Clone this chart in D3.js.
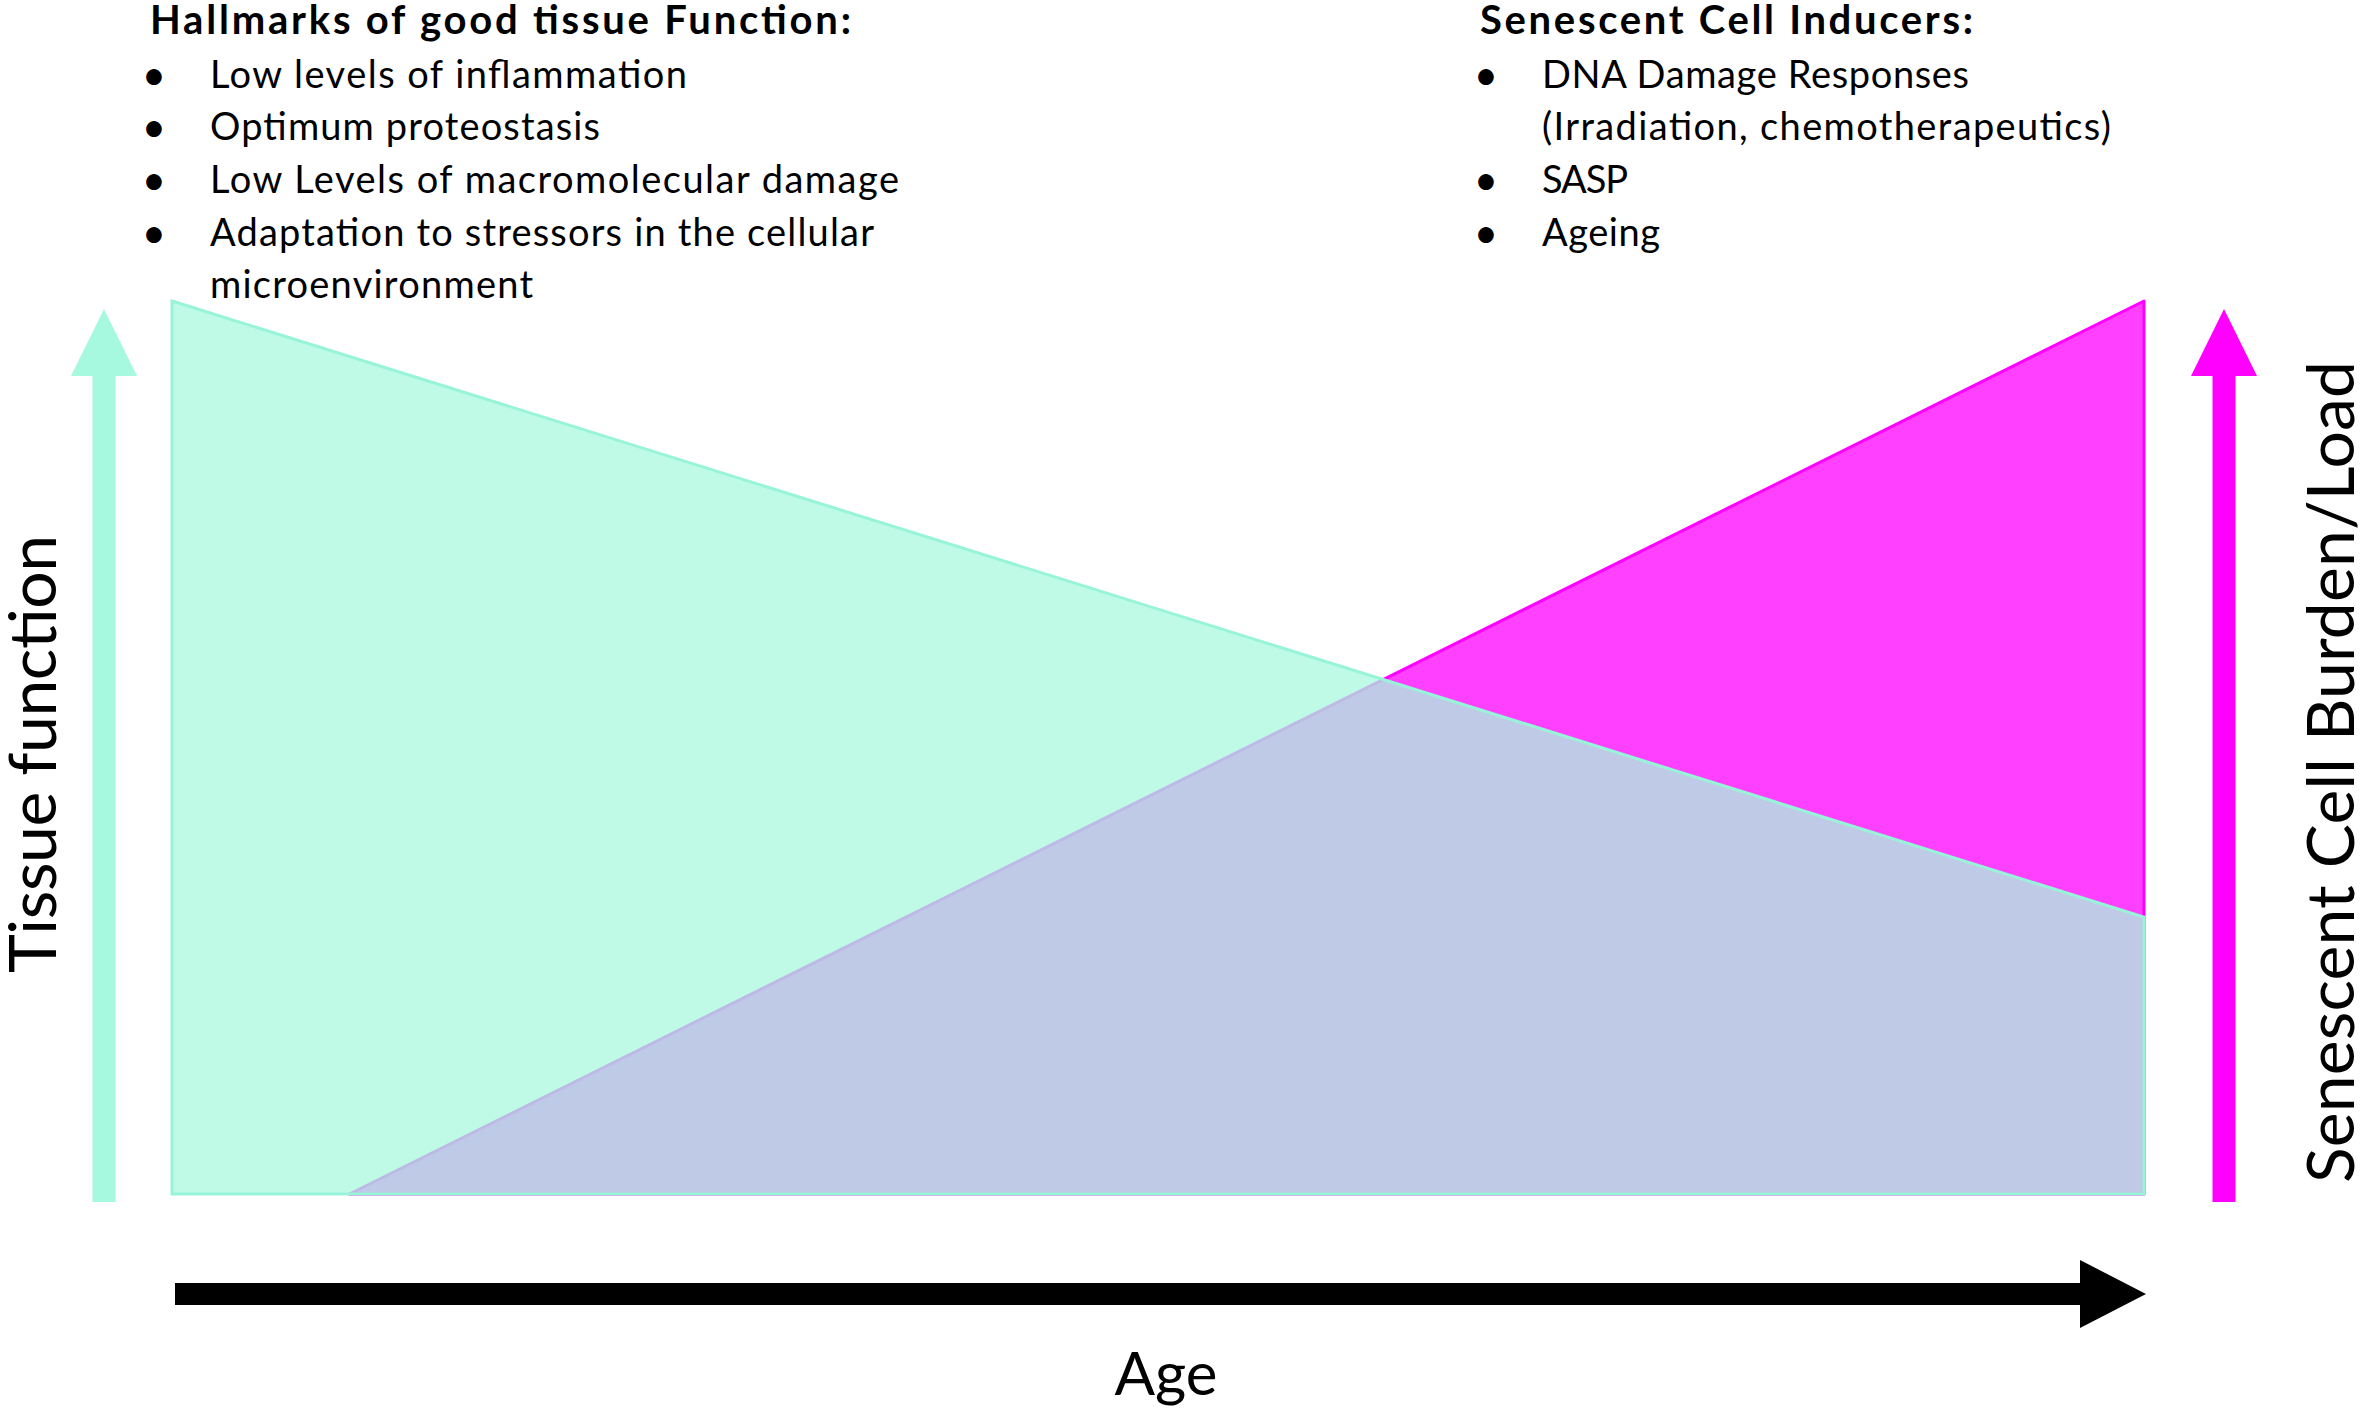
<!DOCTYPE html>
<html>
<head>
<meta charset="utf-8">
<script src="https://cdn.jsdelivr.net/npm/d3@7"></script>
<style>
  body { margin: 0; background: #fff; }
  svg { display: block; }
  text { font-family: Lato, "Open Sans", sans-serif; fill: #000; }
</style>
</head>
<body>
<div id="canvas"></div>
<script>
"use strict";

// age runs 0..1 left to right, both curves on a 0..1 scale
const ages = [0, 1];
const tissueFunction = [1.0, 0.31];
const senescentAges = [0.09, 1];
const senescentLoad = [0, 1];

const hallmarksTitle = "Hallmarks of good tissue Function:";
const hallmarksLines = [
  "Low levels of inflammation",
  "Optimum proteostasis",
  "Low Levels of macromolecular damage",
  "Adaptation to stressors in the cellular",
  "microenvironment"
];
const hallmarksBullets = [true, true, true, true, false];

const inducersTitle = "Senescent Cell Inducers:";
const inducersLines = [
  "DNA Damage Responses",
  "(Irradiation, chemotherapeutics)",
  "SASP",
  "Ageing"
];
const inducersBullets = [true, false, true, true];

const yLabelLeft = "Tissue function";
const yLabelRight = "Senescent Cell Burden/Load";
const xLabel = "Age";

const W = 2362, H = 1412;

const svg = d3.select("#canvas").append("svg")
  .attr("width", W)
  .attr("height", H);

svg.append("rect").attr("width", W).attr("height", H).attr("fill", "white");

const x = d3.scaleLinear().domain([0, 1]).range([172, 2144]);
const y = d3.scaleLinear().domain([0, 1]).range([1194, 301]);

const area = d3.area()
  .x(d => x(d.age))
  .y0(y(0))
  .y1(d => y(d.value));

const tissueData = ages.map((a, i) => ({ age: a, value: tissueFunction[i] }));
const senData = senescentAges.map((a, i) => ({ age: a, value: senescentLoad[i] }));

// Senescent burden (underneath)
svg.append("path")
  .datum(senData)
  .attr("d", area)
  .attr("fill", "#FF00FF")
  .attr("fill-opacity", 0.75)
  .attr("stroke", "#FF00FF")
  .attr("stroke-width", 3)
  .attr("stroke-linejoin", "round");

// Tissue function (on top, see-through)
svg.append("path")
  .datum(tissueData)
  .attr("d", area)
  .attr("fill", "#A8F8DE")
  .attr("fill-opacity", 0.75)
  .attr("stroke", "#98F4D8")
  .attr("stroke-width", 3);

// Vertical arrows
function upArrow(cx, color) {
  const tip = y(1) + 8, base = y(1) + 75, bottom = y(0) + 8;
  const pts = [
    [cx, tip], [cx + 33, base], [cx + 11.5, base], [cx + 11.5, bottom],
    [cx - 11.5, bottom], [cx - 11.5, base], [cx - 33, base]
  ];
  svg.append("polygon")
    .attr("points", pts.map(p => p.join(",")).join(" "))
    .attr("fill", color);
}
upArrow(x(0) - 68, "#A6F8DE");
upArrow(x(1) + 80, "#FF00FF");

// Age arrow
const ay = y(0) + 100;
const agePts = [
  [x(0) + 3, ay - 11], [x(1) - 64, ay - 11], [x(1) - 64, ay - 34], [x(1) + 2, ay],
  [x(1) - 64, ay + 34], [x(1) - 64, ay + 11], [x(0) + 3, ay + 11]
];
svg.append("polygon")
  .attr("points", agePts.map(p => p.join(",")).join(" "))
  .attr("fill", "black");

// Text helpers
function addLine(str, tx, base, size, weight, right) {
  const t = svg.append("text")
    .attr("x", tx).attr("y", base)
    .attr("font-size", size)
    .attr("font-weight", weight)
    .text(str);
  if (right) t.attr("textLength", right - tx).attr("lengthAdjust", "spacing");
  return t;
}

const baselines = [88, 140, 193, 246, 298];

// Left block
addLine(hallmarksTitle, 150, 34, 40, "bold", 851);
const hallRights = [687, 600, 899, 874, 533];
hallmarksLines.forEach((s, i) => {
  addLine(s, 210, baselines[i], 38, "normal", hallRights[i]);
  if (hallmarksBullets[i]) {
    svg.append("text").attr("x", 154).attr("y", baselines[i] + 2)
      .attr("text-anchor", "middle").attr("font-size", 42).text("•");
  }
});

// Right block
addLine(inducersTitle, 1480, 34, 40, "bold", 1973);
const indRights = [1969, 2111, 1628, 1660];
inducersLines.forEach((s, i) => {
  addLine(s, 1542, baselines[i], 38, "normal", indRights[i]);
  if (inducersBullets[i]) {
    svg.append("text").attr("x", 1486).attr("y", baselines[i] + 2)
      .attr("text-anchor", "middle").attr("font-size", 42).text("•");
  }
});

// Axis labels
svg.append("text")
  .attr("transform", "translate(56,754) rotate(-90)")
  .attr("text-anchor", "middle")
  .attr("font-size", 66)
  .attr("textLength", 438).attr("lengthAdjust", "spacing")
  .text(yLabelLeft);

svg.append("text")
  .attr("transform", "translate(2354,772) rotate(-90)")
  .attr("text-anchor", "middle")
  .attr("font-size", 66)
  .attr("textLength", 822).attr("lengthAdjust", "spacing")
  .text(yLabelRight);

svg.append("text")
  .attr("x", 1166).attr("y", 1395)
  .attr("text-anchor", "middle")
  .attr("font-size", 60)
  .text(xLabel);
</script>
</body>
</html>
